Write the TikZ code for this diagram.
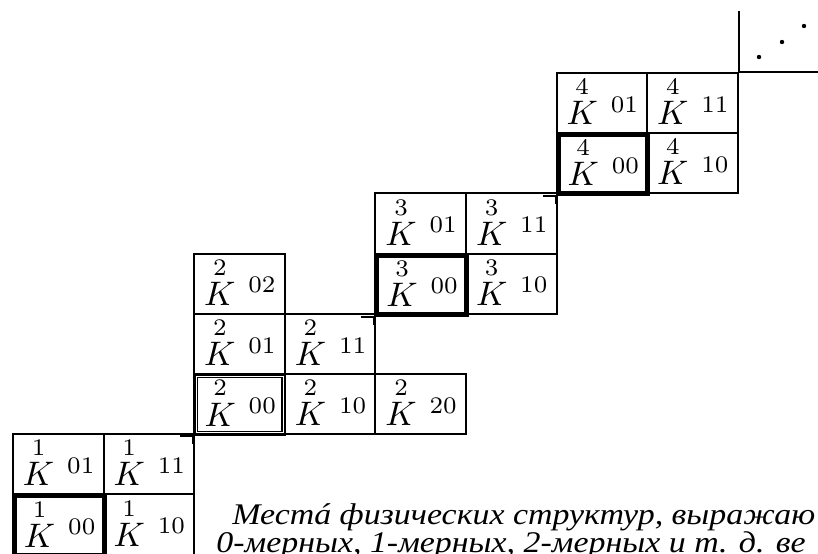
\documentclass[tikz,border=0pt]{standalone}
\usepackage{amsmath}
\usepackage{graphicx}
\usepackage{fontspec}
\newfontfamily\capfont{Liberation Serif}
% cell content: K with its number above and its two-digit index;
% the baseline sits a fixed distance below the centre of the cell
\newcommand\kc[2]{\makebox[45.3pt][l]{\hspace{5pt}\raisebox{-10.8pt}[0pt][0pt]{\scalebox{1.7}{$\overset{#1}{K}\hspace{3.8pt}{}^{#2}$}}}}
% caption line, widened
\newcommand\capline[1]{\scalebox{1.13}[1]{#1}}
\begin{document}
\begin{tikzpicture}[x=0.5pt,y=-0.5pt,
  cell/.style={draw,line width=1pt,minimum width=45.3pt,minimum height=30.1pt,
    inner sep=0pt,anchor=north west},
  zero/.style={cell,line width=2pt},
  zerolite/.style={cell,line width=1.3pt},
  inner/.style={line width=0.6pt},
  tick/.style={line width=1pt},
  caption/.style={anchor=base west,inner sep=0pt,font=\capfont\itshape\fontsize{15}{18}\selectfont}]
\useasboundingbox (0,0) rectangle (818,553);
\clip (0,0) rectangle (818,553);

% block 1
\node[cell] (a01) at (12,433.2) {\kc{1}{01}};
\node[cell] (a11) at (102.6,433.2) {\kc{1}{11}};
\node[zero] (a00) at (12,493.4) {\kc{1}{00}};
\node[cell] (a10) at (102.6,493.4) {\kc{1}{10}};

% block 2
\node[cell] (b02) at (193.2,252.6) {\kc{2}{02}};
\node[cell] (b01) at (193.2,312.8) {\kc{2}{01}};
\node[cell] (b11) at (283.8,312.8) {\kc{2}{11}};
\node[zerolite] (b00) at (193.2,373) {\kc{2}{00}};
\node[cell] (b10) at (283.8,373) {\kc{2}{10}};
\node[cell] (b20) at (374.4,373) {\kc{2}{20}};

% block 3
\node[cell] (c01) at (374.4,192.4) {\kc{3}{01}};
\node[cell] (c11) at (465,192.4) {\kc{3}{11}};
\node[zero] (c00) at (374.4,252.6) {\kc{3}{00}};
\node[cell] (c10) at (465,252.6) {\kc{3}{10}};

% block 4
\node[cell] (d01) at (555.6,72) {\kc{4}{01}};
\node[cell] (d11) at (646.2,72) {\kc{4}{11}};
\node[zero] (d00) at (555.6,132.2) {\kc{4}{00}};
\node[cell] (d10) at (646.2,132.2) {\kc{4}{10}};

% inner frames and corner ticks of the 00 cells
\foreach \z in {a00,b00,c00,d00}{
  \draw[inner] ([xshift=2.2pt,yshift=2.2pt]\z.south west) rectangle ([xshift=-2.2pt,yshift=-2.2pt]\z.north east);
  \draw[tick] (\z.south west) -- ++(-13,0);
  \draw[tick] (\z.south west) -- ++(0,8);
}

% next level, continued
\draw[tick] (d11.north east) -- ++(0,-61);
\draw[tick] (d11.north east) -- (830,72);
\fill (759,57) circle (1.1pt);
\fill (782,42) circle (1.1pt);
\fill (804,26) circle (1.1pt);

% caption
\node[caption] (t1) at (232,524) {\capline{Местá физических структур, выражаю}};
\node[caption] (t2) at (216,552) {\capline{0-мерных, 1-мерных, 2-мерных и т. д. ве}};
\end{tikzpicture}
\end{document}
